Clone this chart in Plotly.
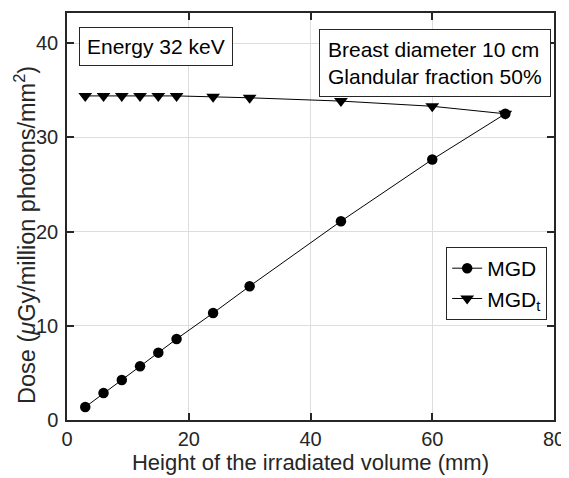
import plotly.graph_objects as go

height_mm = [3, 6, 9, 12, 15, 18, 24, 30, 45, 60, 72]
mgd = [1.38, 2.86, 4.25, 5.7, 7.15, 8.6, 11.35, 14.2, 21.1, 27.65, 32.5]
mgd_t = [34.4, 34.4, 34.4, 34.4, 34.4, 34.4, 34.3, 34.2, 33.85, 33.3, 32.5]

x_ticks = [0, 20, 40, 60, 80]
y_ticks = [0, 10, 20, 30, 40]

fig = go.Figure()
fig.add_trace(go.Scatter(x=height_mm, y=mgd, mode="lines+markers", name="MGD",
                         line=dict(color="black", width=1),
                         marker=dict(symbol="circle", size=10.5, color="black")))
fig.add_trace(go.Scatter(x=height_mm, y=mgd_t, mode="lines+markers", name="MGD<sub>t</sub>",
                         line=dict(color="black", width=1),
                         marker=dict(symbol="triangle-down", size=12, color="black")))

axis_common = dict(showline=True, linecolor="#262626", linewidth=1.5, mirror="ticks",
                   ticks="inside", ticklen=7, tickcolor="#262626", tickwidth=1.5,
                   showgrid=True, gridcolor="#dddddd", gridwidth=1, zeroline=False,
                   tickfont=dict(size=20, color="#262626"), automargin=False)

fig.update_xaxes(range=[0, 80], tickvals=x_ticks, ticklabelstandoff=0,
                 title=dict(text="Height of the irradiated volume (mm)", font=dict(size=22, color="#262626"), standoff=5),
                 **axis_common)
fig.update_yaxes(range=[0, 43.2], tickvals=y_ticks, ticklabelstandoff=3, **axis_common)

# y-axis title (rotated text, placed slightly below the axis centre as in the reference)
fig.add_annotation(text="Dose (<i>μ</i>Gy/million photons/mm<sup>2</sup>)", textangle=-90,
                   xref="paper", yref="paper", x=-0.086, y=0.455, xanchor="center", yanchor="middle",
                   showarrow=False, font=dict(size=23.5, color="#262626"))

fig.add_annotation(text="Energy 32 keV", xref="paper", yref="paper", x=0.025, y=0.966,
                   xanchor="left", yanchor="top", showarrow=False, align="left",
                   font=dict(size=21, color="black"), bordercolor="#262626", borderwidth=1,
                   borderpad=7, bgcolor="white")
fig.add_annotation(text="Breast diameter 10 cm<br>Glandular fraction 50%", xref="paper", yref="paper",
                   x=0.994, y=0.961, xanchor="right", yanchor="top", showarrow=False, align="left",
                   font=dict(size=21, color="black"), bordercolor="#262626", borderwidth=1,
                   borderpad=8, bgcolor="white")

# the page body has an 8px margin, so the figure is drawn 8px lower and to the right
fig.update_layout(width=561, height=470, margin=dict(l=59, r=15, t=5, b=58),
                  plot_bgcolor="white", paper_bgcolor="white",
                  font=dict(family="Liberation Sans, Arial, sans-serif", color="#262626"),
                  legend=dict(x=0.986, y=0.425, xanchor="right", yanchor="top",
                              bordercolor="#262626", borderwidth=1, bgcolor="white",
                              font=dict(size=21, color="black"), itemwidth=30,
                              tracegroupgap=3))

fig.write_html("out.html")
